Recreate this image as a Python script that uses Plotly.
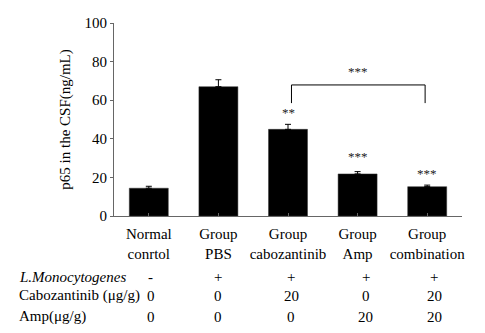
import plotly.graph_objects as go

groups = ["Normal<br>conrtol", "Group<br>PBS", "Group<br>cabozantinib", "Group<br>Amp", "Group<br>combination"]
p65 = [14.4, 67.0, 44.9, 21.8, 15.2]
p65_err = [1.0, 3.6, 2.6, 1.2, 0.8]
stars = ["", "", "**", "***", "***"]
star_y = [None, None, 53.5, 30.7, 22.1]

row_labels = ["<i>L.Monocytogenes</i>", "Cabozantinib (μg/g)", "Amp(μg/g)"]
row_monocyt = ["-", "+", "+", "+", "+"]
row_cabo = ["0", "0", "20", "0", "20"]
row_amp = ["0", "0", "0", "20", "20"]
col_shift = [2, 0, 3, 8, 7]

bracket = dict(x0=2.05, x1=3.97, top=67.9, bottom=58.5, label="***", label_y=74.8)

FONT = "Liberation Serif"
xs = list(range(len(groups)))

fig = go.Figure()
fig.add_trace(go.Bar(
    x=xs, y=p65, width=0.56,
    marker=dict(color="black", line=dict(color="#333", width=0.5)),
    error_y=dict(type="data", array=p65_err, arrayminus=[0]*len(p65), symmetric=False,
                 color="black", thickness=1, width=3),
    showlegend=False,
))

annotations = []
for i, (s, sy) in enumerate(zip(stars, star_y)):
    if s:
        annotations.append(dict(x=i, y=sy, xref="x", yref="y", text=s, showarrow=False,
                                font=dict(family=FONT, size=13, color="#222"), yanchor="middle"))
annotations.append(dict(x=(bracket["x0"] + bracket["x1"]) / 2, y=bracket["label_y"], xref="x", yref="y",
                        text=bracket["label"], showarrow=False,
                        font=dict(family=FONT, size=13, color="#222"), yanchor="middle"))

row_y = [-0.3145, -0.4145, -0.5218]
for lab, ry in zip(row_labels, row_y):
    annotations.append(dict(x=-0.2796, y=ry, xref="paper", yref="paper", text=lab, showarrow=False,
                            xanchor="left", yanchor="middle", font=dict(family=FONT, size=15, color="black")))
for vals, ry in zip([row_monocyt, row_cabo, row_amp], row_y):
    for i, v in enumerate(vals):
        annotations.append(dict(x=i, y=ry, xref="x", yref="paper", text=v, showarrow=False,
                                xshift=col_shift[i], xanchor="center", yanchor="middle",
                                font=dict(family=FONT, size=15, color="black")))

shapes = [
    dict(type="line", xref="x", yref="y", x0=bracket["x0"], x1=bracket["x1"], y0=bracket["top"], y1=bracket["top"],
         line=dict(color="black", width=1)),
    dict(type="line", xref="x", yref="y", x0=bracket["x0"], x1=bracket["x0"], y0=bracket["top"], y1=bracket["bottom"],
         line=dict(color="black", width=1)),
    dict(type="line", xref="x", yref="y", x0=bracket["x1"], x1=bracket["x1"], y0=bracket["top"], y1=bracket["bottom"],
         line=dict(color="black", width=1)),
]

fig.update_layout(
    width=485, height=333,
    margin=dict(l=114, r=23, t=23, b=117),
    paper_bgcolor="white", plot_bgcolor="white",
    font=dict(family=FONT, size=15, color="black"),
    annotations=annotations, shapes=shapes,
    xaxis=dict(range=[-0.5, 4.5], tickmode="array", tickvals=xs, ticktext=groups,
               showline=True, linecolor="#666", linewidth=1,
               ticks="inside", ticklen=3, tickcolor="#666", showgrid=False, zeroline=False,
               ticklabelstandoff=4,
               tickfont=dict(family=FONT, size=15, color="black")),
    yaxis=dict(range=[0, 100], tickvals=[0, 20, 40, 60, 80, 100],
               showline=True, linecolor="#666", linewidth=1,
               ticks="outside", ticklen=3, tickcolor="#666", showgrid=False, zeroline=False,
               title=dict(text="p65 in the CSF(ng/mL)", font=dict(family=FONT, size=15, color="black"), standoff=10),
               tickfont=dict(family=FONT, size=15, color="black")),
)

fig.write_html("out.html")
